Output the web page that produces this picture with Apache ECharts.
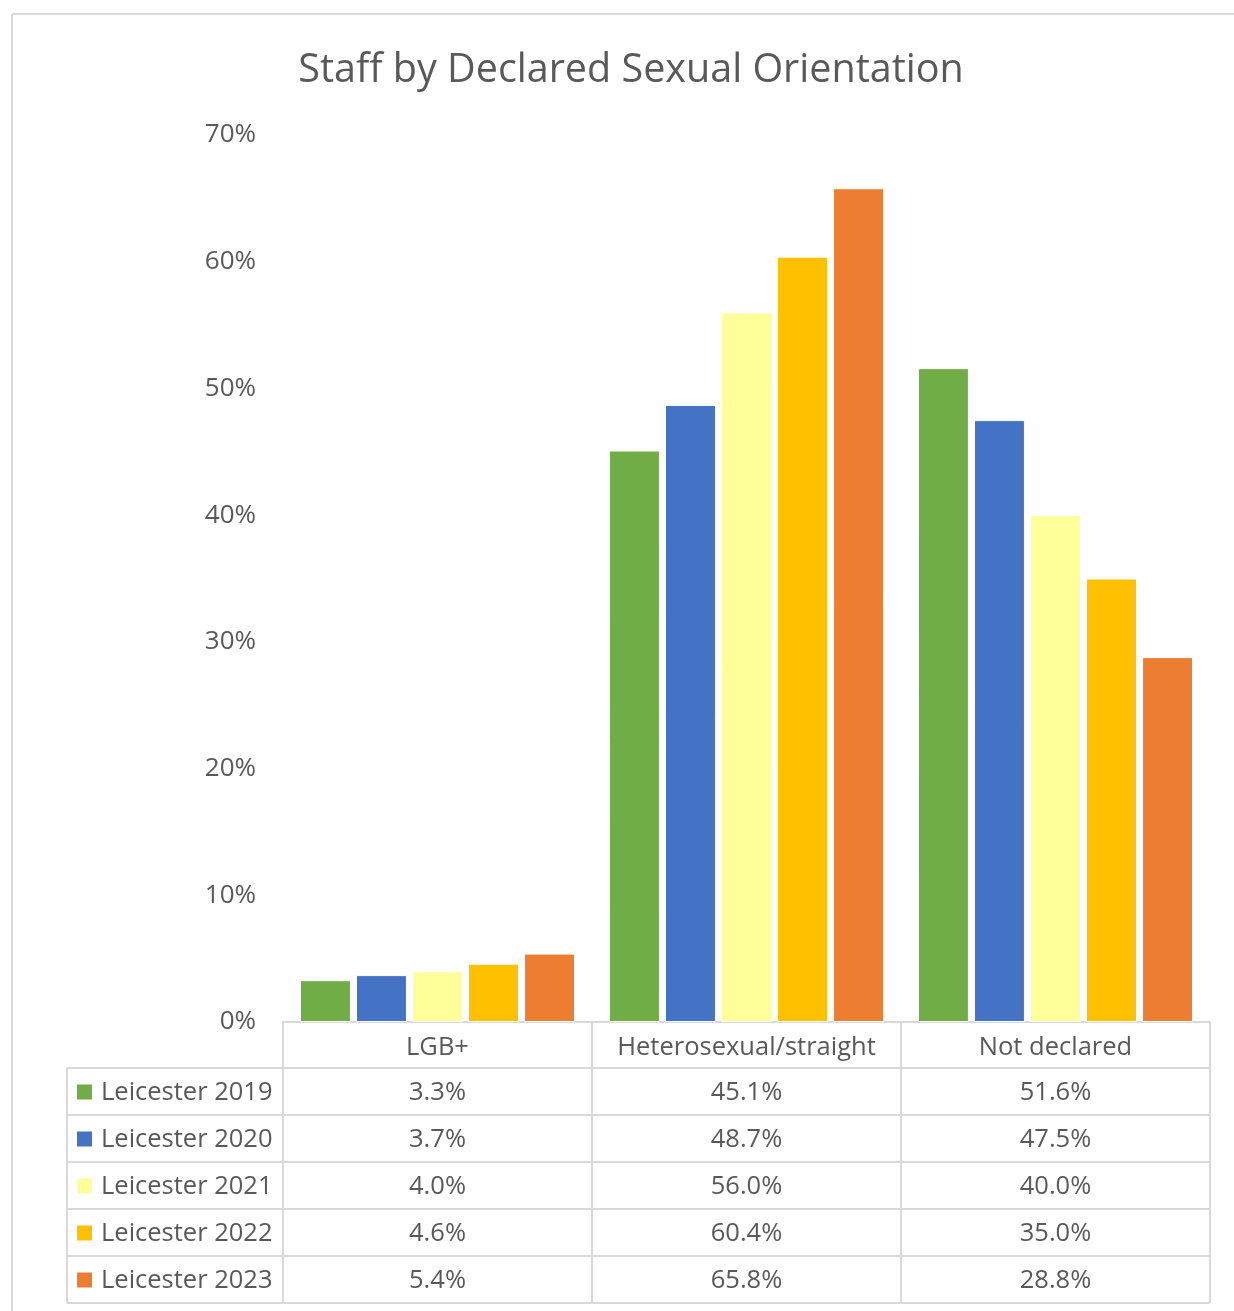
<!DOCTYPE html>
<html>
<head>
<meta charset="utf-8">
<script src="https://cdn.jsdelivr.net/npm/echarts@6/dist/echarts.min.js"></script>
<style>
  html, body { margin: 0; padding: 0; background: #fff; }
  #chart { width: 1234px; height: 1311px; }
</style>
</head>
<body>
<div id="chart"></div>
<script>
// data
const categories = ['LGB+', 'Heterosexual/straight', 'Not declared']
const seriesNames = ['Leicester 2019', 'Leicester 2020', 'Leicester 2021', 'Leicester 2022', 'Leicester 2023']
const values2019 = [3.3, 45.1, 51.6]
const values2020 = [3.7, 48.7, 47.5]
const values2021 = [4.0, 56.0, 40.0]
const values2022 = [4.6, 60.4, 35.0]
const values2023 = [5.4, 65.8, 28.8]
const yTicks = [0, 10, 20, 30, 40, 50, 60, 70]

const allValues = [values2019, values2020, values2021, values2022, values2023]
const colors = ['#70AD47', '#4472C4', '#FFFF99', '#FFC000', '#ED7D31']

const font = '"Open Sans", Lato, sans-serif'
const textColor = '#595959'
const lineColor = '#d9d9d9'
const tableFontSize = 25.5

// layout
const gridLeft = 283
const gridRight = 24
const gridTop = 135
const gridBottom = 289
const rowH = 47
const legendLeft = 67

const chart = echarts.init(document.getElementById('chart'))

chart.setOption({
  animation: false,
  title: {
    text: 'Staff by Declared Sexual Orientation',
    left: 626,
    top: 46,
    textAlign: 'center',
    textStyle: { fontFamily: font, fontSize: 39.5, fontWeight: 'normal', color: textColor }
  },
  grid: { left: gridLeft, right: gridRight, top: gridTop, bottom: gridBottom, containLabel: false },
  xAxis: {
    type: 'category',
    data: categories,
    axisTick: { show: false },
    axisLine: { lineStyle: { color: lineColor, width: 2 } },
    axisLabel: {
      interval: 0, hideOverlap: false, margin: 13,
      fontFamily: font, fontSize: tableFontSize, color: textColor
    }
  },
  yAxis: {
    type: 'value',
    min: yTicks[0],
    max: yTicks[yTicks.length - 1],
    interval: 10,
    splitLine: { show: false },
    axisLine: { show: false },
    axisTick: { show: false },
    axisLabel: { margin: 27, fontFamily: font, fontSize: 26, color: textColor, formatter: '{value}%' }
  },
  series: seriesNames.map((name, i) => ({
    name: name,
    type: 'bar',
    data: allValues[i],
    barGap: '10%',
    barCategoryGap: '11%',
    itemStyle: { color: colors[i], borderColor: '#fff', borderWidth: 1 }
  }))
})

// data table below the plot, laid out from the axis
function drawTable() {
  const axisY = chart.convertToPixel({ yAxisIndex: 0 }, 0)
  const plotRight = chart.getWidth() - gridRight
  const colW = (plotRight - gridLeft) / categories.length
  const els = []
  const line = (x1, y1, x2, y2) => ({
    type: 'line', silent: true,
    shape: { x1, y1, x2, y2 },
    style: { stroke: lineColor, lineWidth: 2 }
  })
  // frame of the chart area
  els.push(line(12, 14, 1234, 14))
  els.push(line(12, 14, 12, 1311))

  const tableTop = axisY + rowH - 1
  const tableBottom = tableTop + rowH * seriesNames.length
  // horizontal rules
  for (let r = 0; r <= seriesNames.length; r++) {
    const y = tableTop + r * rowH
    els.push(line(legendLeft, y, plotRight, y))
  }
  // vertical rules
  els.push(line(legendLeft, tableTop, legendLeft, tableBottom))
  for (let c = 0; c <= categories.length; c++) {
    const x = gridLeft + c * colW
    els.push(line(x, axisY, x, tableBottom))
  }
  // rows
  seriesNames.forEach((name, r) => {
    const cy = tableTop + r * rowH + rowH / 2 + 1
    els.push({
      type: 'rect', silent: true,
      shape: { x: 77, y: cy - 8, width: 15, height: 15 },
      style: { fill: colors[r] }
    })
    els.push({
      type: 'text', silent: true,
      x: 101, y: cy,
      style: { text: name, font: tableFontSize + 'px ' + font, fill: textColor, verticalAlign: 'middle', align: 'left' }
    })
    allValues[r].forEach((v, c) => {
      const cx = chart.convertToPixel({ xAxisIndex: 0 }, categories[c])
      els.push({
        type: 'text', silent: true,
        x: cx, y: cy,
        style: { text: v.toFixed(1) + '%', font: tableFontSize + 'px ' + font, fill: textColor, verticalAlign: 'middle', align: 'center' }
      })
    })
  })
  chart.setOption({ graphic: { elements: els } })
}
drawTable()
</script>
</body>
</html>
